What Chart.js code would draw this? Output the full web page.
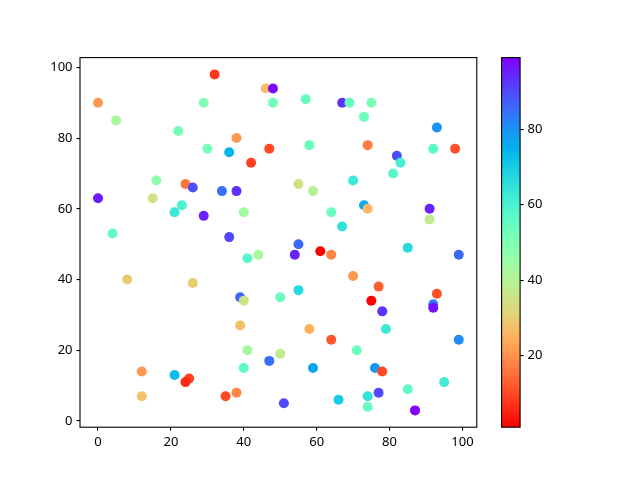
<!DOCTYPE html>
<html>
<head>
<meta charset="utf-8">
<script src="https://cdn.jsdelivr.net/npm/chart.js@4/dist/chart.umd.min.js"></script>
<style>
  body { margin: 0; background: #fff; }
  #wrap { position: relative; width: 640px; height: 480px; }
  #wrap canvas { position: absolute; left: 0; top: 0; }
</style>
</head>
<body>
<div id="wrap">
  <canvas id="scatterChart" width="640" height="480"></canvas>
  <canvas id="colorBar" width="640" height="480"></canvas>
</div>
<script>
// point data (x, y and colour value)
let xValues = [0, 5, 32, 29, 22, 30, 16, 24, 26, 0, 15, 23, 21, 29, 4, 46, 48, 48, 57, 67,
  38, 36, 47, 42, 58, 34, 38, 55, 59, 40, 64, 67, 36, 55, 69, 75, 73, 93, 74, 92,
  98, 82, 83, 81, 70, 73, 74, 91, 91, 85, 8, 26, 12, 12, 21, 25, 24, 41, 44, 54,
  61, 64, 39, 40, 50, 55, 39, 58, 64, 41, 50, 47, 40, 59, 35, 38, 51, 66, 99, 70,
  77, 75, 78, 93, 92, 92, 79, 99, 71, 76, 78, 74, 77, 74, 85, 95, 87];
let yValues = [90, 85, 98, 90, 82, 77, 68, 67, 66, 63, 63, 61, 59, 58, 53, 94, 94, 90, 91, 90,
  80, 76, 77, 73, 78, 65, 65, 67, 65, 59, 59, 55, 52, 50, 90, 90, 86, 83, 78, 77,
  77, 75, 73, 70, 68, 61, 60, 60, 57, 49, 40, 39, 14, 7, 13, 12, 11, 46, 47, 47,
  48, 47, 35, 34, 35, 37, 27, 26, 23, 20, 19, 17, 15, 15, 7, 8, 5, 6, 47, 41,
  38, 34, 31, 36, 33, 32, 26, 23, 20, 15, 14, 7, 8, 4, 9, 11, 3];
let cValues = [21, 42, 8, 50, 52, 52, 47, 16, 89, 96, 35, 60, 63, 95, 55, 27, 98, 52, 55, 93,
  21, 74, 10, 9, 54, 85, 93, 35, 40, 43, 54, 65, 90, 86, 55, 51, 53, 80, 17, 57,
  11, 89, 61, 58, 63, 76, 26, 95, 38, 67, 30, 30, 21, 28, 73, 9, 6, 57, 42, 95,
  1, 18, 86, 36, 54, 67, 28, 25, 12, 43, 38, 85, 56, 77, 10, 18, 90, 70, 86, 21,
  13, 1, 93, 11, 83, 97, 63, 81, 53, 79, 10, 65, 90, 54, 56, 62, 99];

let xTicks = [0, 20, 40, 60, 80, 100];
let yTicks = [0, 20, 40, 60, 80, 100];
let barTicks = [20, 40, 60, 80];

let cMin = Math.min(...cValues);
let cMax = Math.max(...cValues);

// matplotlib "rainbow_r": red for low values, violet for high ones
function rainbowR(t) {
  let x = 1 - t;
  let clip = v => Math.max(0, Math.min(1, v));
  let r = clip(Math.abs(2 * x - 0.5));
  let g = clip(Math.sin(Math.PI * x));
  let b = clip(Math.cos(Math.PI * x / 2));
  return `rgb(${Math.round(r * 255)},${Math.round(g * 255)},${Math.round(b * 255)})`;
}
function colorFor(v) {
  return rainbowR((v - cMin) / (cMax - cMin));
}

let fontSpec = { family: '"Noto Sans", "DejaVu Sans", sans-serif', size: 13 };

// black frame around the plot area (all four spines)
let framePlugin = {
  id: 'frame',
  afterDraw(chart) {
    let a = chart.chartArea, c = chart.ctx;
    c.save();
    c.strokeStyle = '#000';
    c.lineWidth = 1.1;
    c.strokeRect(a.left, a.top, a.right - a.left, a.bottom - a.top);
    c.restore();
  }
};

function tickAxis(values, size, sideKey) {
  return {
    type: 'linear',
    border: { display: false },
    grid: { display: true, drawOnChartArea: false, drawTicks: true, tickLength: 3.5, color: '#000', tickColor: '#000', lineWidth: 1.1 },
    ticks: { color: '#000', font: fontSpec, padding: 4, maxRotation: 0, autoSkip: false },
    afterBuildTicks: scale => { scale.ticks = values.map(v => ({ value: v })); },
    afterFit: scale => { scale[sideKey] = size; }
  };
}

// scatter plot
let xAxis = tickAxis(xTicks, 52.8, 'height');
xAxis.min = -4.95; xAxis.max = 103.95;
let yAxis = tickAxis(yTicks, 80, 'width');
yAxis.min = -1.75; yAxis.max = 102.75;

new Chart(document.getElementById('scatterChart').getContext('2d'), {
  type: 'scatter',
  data: {
    datasets: [{
      data: xValues.map((x, i) => ({ x: x, y: yValues[i] })),
      backgroundColor: cValues.map(colorFor),
      borderWidth: 0,
      pointRadius: 5,
      pointHoverRadius: 5
    }]
  },
  options: {
    responsive: false,
    animation: false,
    devicePixelRatio: 1,
    layout: { padding: { left: 0, top: 57.6, right: 163.2, bottom: 0 } },
    scales: { x: xAxis, y: yAxis },
    plugins: { legend: { display: false }, tooltip: { enabled: false } }
  },
  plugins: [framePlugin]
});

// colour bar
let barAxis = tickAxis(barTicks, 119.9, 'width');
barAxis.position = 'right';
barAxis.min = cMin; barAxis.max = cMax;

new Chart(document.getElementById('colorBar').getContext('2d'), {
  type: 'bar',
  data: {
    labels: [''],
    datasets: [{
      data: [[cMin, cMax]],
      barPercentage: 1,
      categoryPercentage: 1,
      borderWidth: 0,
      backgroundColor: ctx => {
        let chart = ctx.chart;
        if (!chart.chartArea) return 'transparent';
        let ys = chart.scales.y;
        let grad = chart.ctx.createLinearGradient(0, ys.getPixelForValue(cMin), 0, ys.getPixelForValue(cMax));
        for (let i = 0; i <= 40; i++) grad.addColorStop(i / 40, rainbowR(i / 40));
        return grad;
      }
    }]
  },
  options: {
    responsive: false,
    animation: false,
    devicePixelRatio: 1,
    layout: { padding: { left: 501.6, top: 57.6, right: 0, bottom: 52.8 } },
    scales: { x: { display: false }, y: barAxis },
    plugins: { legend: { display: false }, tooltip: { enabled: false } }
  },
  plugins: [framePlugin]
});
</script>
</body>
</html>
